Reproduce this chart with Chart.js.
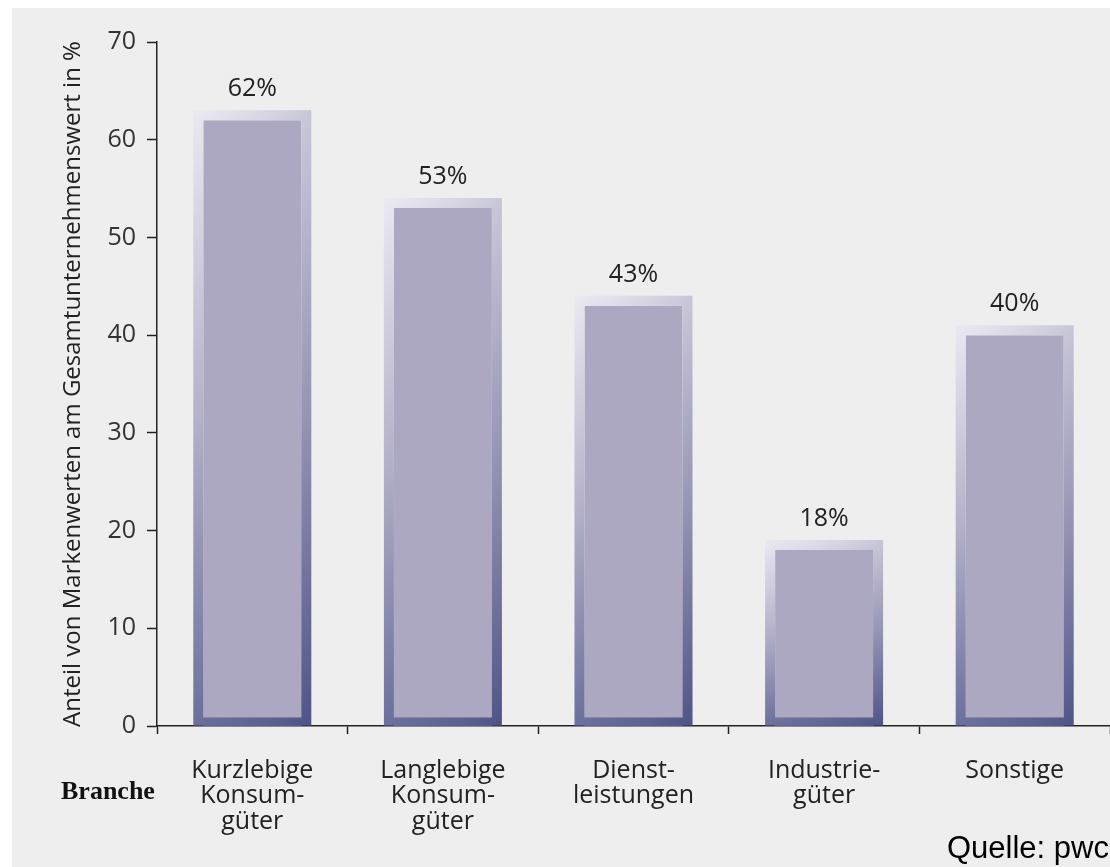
<!DOCTYPE html>
<html>
<head>
<meta charset="utf-8">
<script src="https://cdn.jsdelivr.net/npm/chart.js@4.4.1/dist/chart.umd.min.js"></script>
<style>
  html, body { margin: 0; padding: 0; background: #fff; }
  #chart { display: block; }
</style>
</head>
<body>
<canvas id="chart" width="1110" height="867"></canvas>
<script>
const branchen = [
  ['Kurzlebige', 'Konsum-', 'güter'],
  ['Langlebige', 'Konsum-', 'güter'],
  ['Dienst-', 'leistungen'],
  ['Industrie-', 'güter'],
  ['Sonstige'],
];
const anteil = [62, 53, 43, 18, 40];
const yTicks = [0, 10, 20, 30, 40, 50, 60, 70];

const FONT = '"Open Sans", "DejaVu Sans", sans-serif';
const INK = '#222';

// grey panel behind the plot
const panel = {
  id: 'panel',
  beforeDraw(chart) {
    const ctx = chart.ctx;
    ctx.save();
    ctx.fillStyle = '#eeeeee';
    ctx.fillRect(12, 8, chart.width - 12, chart.height - 8);
    ctx.restore();
  },
};

// bevelled frame around each bar + value labels on top
const bevel = {
  id: 'bevel',
  afterDatasetsDraw(chart) {
    const ctx = chart.ctx;
    const meta = chart.getDatasetMeta(0);
    ctx.save();
    meta.data.forEach((bar, i) => {
      const { x, y, base, width } = bar.getProps(['x', 'y', 'base', 'width'], true);
      const l = x - width / 2;
      const ol = l - 10, or = l + width + 10, ot = y - 10, ob = base;
      const ib = base - 8;

      const v = ctx.createLinearGradient(0, ot, 0, ob);
      v.addColorStop(0, '#e8e6f0');
      v.addColorStop(0.5, '#aaa7c3');
      v.addColorStop(1, '#565d8e');
      ctx.beginPath();
      ctx.rect(ol, ot, or - ol, ob - ot);
      ctx.rect(l, y, width, ib - y);
      ctx.fillStyle = v;
      ctx.fill('evenodd');

      const h = ctx.createLinearGradient(ol, 0, or, 0);
      h.addColorStop(0, 'rgba(255,255,255,0.12)');
      h.addColorStop(1, 'rgba(30,35,90,0.16)');
      ctx.fillStyle = h;
      ctx.fill('evenodd');

      ctx.fillStyle = INK;
      ctx.font = '25px ' + FONT;
      ctx.textAlign = 'center';
      ctx.textBaseline = 'middle';
      ctx.fillText(anteil[i] + '%', x, y - 31);
    });

    ctx.font = 'bold 26px "Liberation Serif", serif';
    ctx.textAlign = 'left';
    ctx.textBaseline = 'alphabetic';
    ctx.fillStyle = '#111';
    ctx.fillText('Branche', 61, 799);

    ctx.font = '31px "Liberation Sans", Arial, sans-serif';
    ctx.fillStyle = '#000';
    ctx.fillText('Quelle: pwc', 947, 858);
    ctx.restore();
  },
};

new Chart(document.getElementById('chart'), {
  type: 'bar',
  data: {
    labels: branchen,
    datasets: [{
      data: anteil,
      backgroundColor: '#aca8c1',
      borderWidth: 0,
      categoryPercentage: 1,
      barPercentage: 0.514,
    }],
  },
  options: {
    responsive: false,
    animation: false,
    events: [],
    layout: { padding: { top: 42, right: 0, bottom: 0, left: 0 } },
    plugins: {
      legend: { display: false },
      tooltip: { enabled: false },
    },
    scales: {
      x: {
        offset: true,
        afterFit(scale) { scale.height = 141; },
        grid: {
          offset: true,
          drawOnChartArea: false,
          tickLength: 8,
          tickWidth: 1.5,
          tickColor: INK,
        },
        border: { color: INK, width: 1.5 },
        ticks: {
          color: INK,
          font: { family: FONT, size: 25, lineHeight: 1.02 },
          padding: 24,
          maxRotation: 0,
          autoSkip: false,
        },
      },
      y: {
        min: 0,
        max: 70,
        afterFit(scale) { scale.width = 157; },
        afterBuildTicks(scale) { scale.ticks = yTicks.map(v => ({ value: v })); },
        grid: {
          drawOnChartArea: false,
          tickLength: 10,
          tickWidth: 1.5,
          tickColor: INK,
        },
        border: { color: INK, width: 1.5 },
        ticks: {
          color: '#333',
          font: { family: FONT, size: 25 },
          padding: 11,
        },
        title: {
          display: true,
          text: 'Anteil von Markenwerten am Gesamtunternehmenswert in %',
          color: INK,
          font: { family: FONT, size: 24, lineHeight: 1.2 },
          padding: { top: 59, bottom: 0 },
        },
      },
    },
  },
  plugins: [panel, bevel],
});
</script>
</body>
</html>
